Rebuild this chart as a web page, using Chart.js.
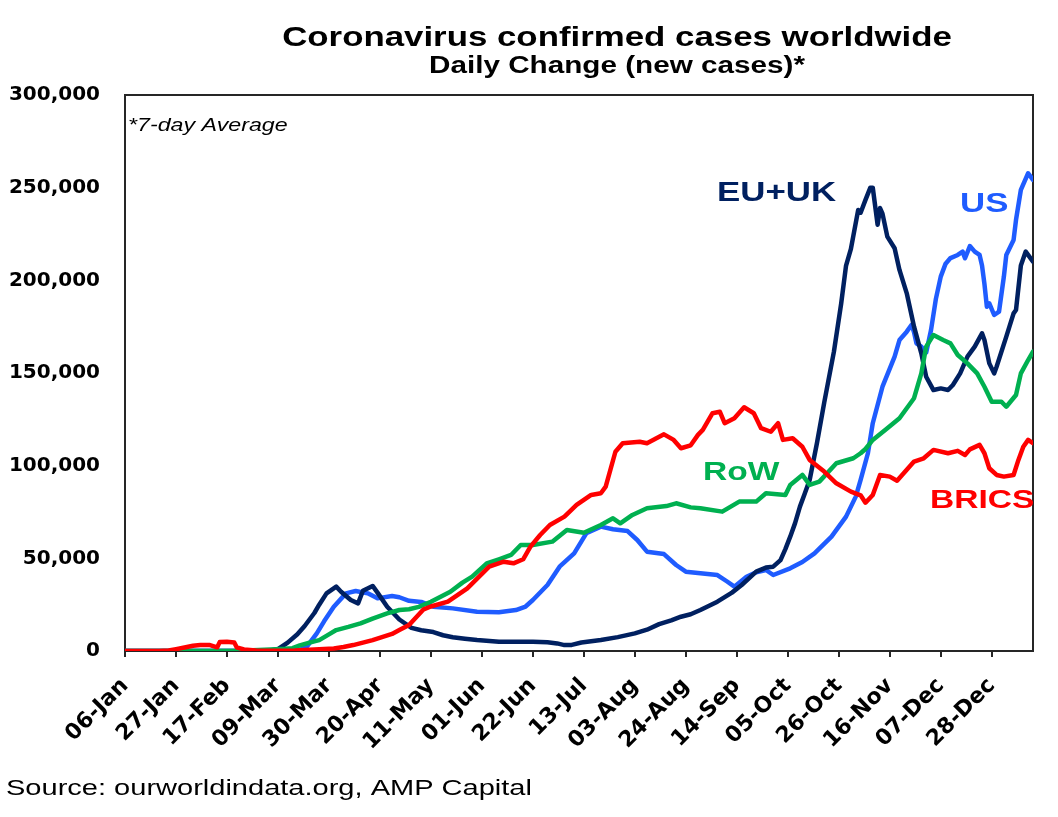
<!DOCTYPE html>
<html>
<head>
<meta charset="utf-8">
<script src="https://cdn.jsdelivr.net/npm/chart.js@4.4.1/dist/chart.umd.min.js"></script>
<style>
  html, body { margin: 0; padding: 0; background: #fff; }
  #chart { display: block; }
</style>
</head>
<body>
<canvas id="chart" width="1058" height="817"></canvas>
<script>
// days counted from 06-Jan-2020, values = new cases (7-day average)
const tickDays = [0, 21, 42, 63, 84, 105, 126, 147, 168, 189, 210, 231, 252, 273, 294, 315, 336, 357];
const tickLabels = ['06-Jan', '27-Jan', '17-Feb', '09-Mar', '30-Mar', '20-Apr', '11-May', '01-Jun', '22-Jun',
    '13-Jul', '03-Aug', '24-Aug', '14-Sep', '05-Oct', '26-Oct', '16-Nov', '07-Dec', '28-Dec'];

const euDays = [0, 55, 60, 63, 67, 71, 74, 78, 80, 83, 87, 89, 93, 96, 98, 102, 104, 108, 113, 118, 122, 127, 131, 135,
    140, 145, 154, 162, 168, 174, 178, 181, 184, 188, 196, 203, 210, 215, 220, 225, 229, 233, 237, 244, 250, 254, 260,
    264, 267, 270, 272, 274, 276, 278, 280, 282, 285, 288, 292, 295, 297, 299, 302, 303, 305, 307, 308, 310, 311, 312,
    314, 317, 319, 322, 325, 328, 330, 333, 336, 339, 341, 344, 347, 350, 353, 354, 356, 358, 359, 363, 366, 367, 369,
    371, 374];
const euVals = [0, 0, 300, 1000, 4500, 9000, 13500, 20500, 25000, 31100, 34700, 32000, 27500, 25700, 32500, 35100,
    31500, 23900, 17000, 12500, 11200, 10200, 8500, 7400, 6600, 5900, 5000, 5000, 5000, 4700, 4100, 3200, 3300, 4600,
    5900, 7500, 9500, 11500, 14500, 16500, 18500, 19800, 22100, 26600, 31500, 35600, 42800, 45000, 45500, 49000, 55000,
    61700, 69000, 77900, 85000, 92300, 112100, 134000, 161500, 187600, 208000, 217000, 238000, 236500, 243400, 250000,
    250000, 230000, 239000, 236000, 223600, 217300, 205600, 193000, 175000, 160600, 148000, 140800, 141700, 140800,
    143500, 149800, 158800, 164200, 171400, 167800, 155200, 149800, 153400, 169600, 182200, 184000, 208000, 215500,
    210100];

const usDays = [0, 70, 72, 75, 79, 82, 86, 91, 95, 100, 104, 110, 113, 117, 122, 127, 135, 145, 154, 161, 165, 168, 174,
    179, 185, 190, 196, 201, 207, 211, 215, 222, 227, 231, 237, 244, 248, 251, 256, 260, 264, 267, 274, 279, 284, 291,
    297, 301, 303, 306, 308, 312, 317, 319, 322, 324, 325, 326, 328, 330, 332, 334, 336, 338, 340, 343, 345, 346, 348,
    350, 352, 353, 354, 355, 356, 358, 360, 362, 363, 366, 367, 369, 372, 374];
const usVals = [0, 0, 500, 2500, 9500, 16000, 23900, 31100, 32400, 31100, 28400, 29700, 29000, 27100, 26500, 23900,
    23000, 21200, 20900, 22100, 24000, 27500, 35600, 45500, 52700, 63500, 67100, 65700, 64700, 59900, 53600, 52300,
    46400, 42800, 41900, 41000, 37500, 34700, 40100, 42500, 43700, 41000, 44600, 48000, 52700, 61700, 72500, 83300,
    92300, 106700, 122900, 142600, 158800, 167800, 172300, 176000, 172000, 166000, 164200, 161000, 173200, 190000,
    202000, 209000, 212000, 213700, 215500, 211900, 218500, 215500, 213700, 208000, 198000, 185800, 187600, 181300,
    183100, 202000, 213700, 221800, 232600, 248800, 257800, 254200];

const rowDays = [0, 45, 50, 60, 66, 69, 72, 76, 80, 84, 87, 92, 97, 102, 108, 113, 117, 121, 126, 134, 139, 143, 149,
    154, 159, 163, 168, 176, 182, 189, 196, 201, 204, 209, 215, 223, 227, 233, 237, 246, 253, 260, 264, 272, 274, 279,
    282, 286, 293, 300, 303, 305, 308, 314, 319, 325, 328, 330, 333, 337, 340, 343, 347, 351, 354, 357, 361, 363, 367,
    369, 372, 374];
const rowVals = [0, 0, 300, 800, 1200, 1500, 3000, 4500, 5900, 9000, 11300, 13000, 14900, 17500, 20300, 22100, 22500,
    23800, 26600, 32000, 36900, 40100, 47300, 49500, 51800, 57200, 57200, 59000, 65300, 63800, 68000, 71600, 68900,
    73400, 77000, 78200, 79700, 77500, 77000, 75200, 80600, 80600, 85100, 84200, 89600, 95000, 89600, 91400, 101300,
    104000, 106700, 109000, 113900, 120200, 125600, 136400, 149800, 164200, 170500, 167800, 166000, 159700, 155200,
    149800, 142600, 134500, 134500, 131800, 138100, 149800, 157000, 161500];

const bricsDays = [0, 14, 18, 21, 25, 28, 31, 35, 38, 39, 42, 45, 46, 49, 54, 63, 70, 78, 86, 90, 94, 102, 110, 113, 117,
    123, 126, 133, 141, 150, 156, 160, 164, 167, 171, 175, 181, 186, 192, 196, 198, 202, 205, 212, 215, 222, 226, 229,
    233, 236, 238, 242, 245, 247, 251, 255, 259, 262, 266, 269, 271, 275, 279, 282, 288, 293, 299, 303, 305, 308, 311,
    315, 318, 325, 329, 333, 339, 343, 346, 348, 352, 354, 356, 359, 362, 366, 368, 370, 372, 374];
const bricsVals = [0, 0, 300, 1000, 2000, 2800, 3200, 3200, 2000, 4800, 5000, 4600, 2000, 800, 300, 200, 300, 800,
    1400, 2200, 3200, 5900, 9200, 11300, 14000, 22500, 24000, 26600, 33800, 45500, 48200, 47300, 49500, 56300, 62600,
    68000, 72500, 78800, 84200, 85100, 88700, 107500, 112100, 112900, 112100, 116900, 113900, 109400, 111000, 116600,
    119300, 128300, 129100, 122900, 125600, 131500, 128300, 120200, 118300, 122900, 113900, 114800, 110200, 103100,
    96800, 90500, 86000, 84000, 80000, 84200, 95000, 94100, 91900, 102200, 104000, 108500, 106700, 108000, 105800,
    108800, 111200, 106700, 98600, 95000, 94100, 95000, 103100, 110200, 113900, 112100];

const NAVY = '#002060';
const BLUE = '#1f5cff';
const GREEN = '#00b050';
const RED = '#ff0000';
const SX = 1.29; // the original picture is stretched sideways

function toPoints(days, vals) {
    return days.map((d, i) => ({ x: d, y: vals[i] }));
}

function lineSet(label, days, vals, color) {
    return {
        label: label,
        data: toPoints(days, vals),
        borderColor: color,
        backgroundColor: color,
        borderWidth: 4.5,
        pointRadius: 0,
        tension: 0,
        borderJoinStyle: 'round',
        borderCapStyle: 'round',
        fill: false
    };
}

function wideText(ctx, text, x, y, font, color, align) {
    ctx.save();
    ctx.font = font;
    ctx.fillStyle = color;
    ctx.textAlign = align;
    ctx.textBaseline = 'alphabetic';
    ctx.translate(x, y);
    ctx.scale(SX, 1);
    ctx.fillText(text, 0, 0);
    ctx.restore();
}

const decorations = {
    id: 'decorations',
    beforeDatasetsDraw(chart) {
        const { ctx, chartArea: a } = chart;
        ctx.save();
        ctx.strokeStyle = '#262626';
        ctx.lineWidth = 2;
        ctx.strokeRect(a.left, a.top, a.right - a.left, a.bottom - a.top);
        ctx.restore();
    },
    afterDraw(chart) {
        const ctx = chart.ctx;
        const sans = '"Liberation Sans", Arial, sans-serif';
        wideText(ctx, 'Coronavirus confirmed cases worldwide', 617, 46, 'bold 27px ' + sans, '#000', 'center');
        wideText(ctx, 'Daily Change (new cases)*', 617, 73, 'bold 23px ' + sans, '#000', 'center');
        wideText(ctx, '*7-day Average', 128, 131, 'italic 18px ' + sans, '#000', 'left');
        wideText(ctx, 'EU+UK', 717, 201, 'bold 27px ' + sans, NAVY, 'left');
        wideText(ctx, 'US', 960, 212, 'bold 27px ' + sans, BLUE, 'left');
        wideText(ctx, 'RoW', 703, 480, 'bold 26px ' + sans, GREEN, 'left');
        wideText(ctx, 'BRICS', 930, 508, 'bold 26px ' + sans, RED, 'left');
        wideText(ctx, 'Source: ourworldindata.org, AMP Capital', 6, 795, '22.5px ' + sans, '#000', 'left');
    }
};

new Chart(document.getElementById('chart'), {
    type: 'line',
    data: {
        datasets: [
            lineSet('BRICS', bricsDays, bricsVals, RED),
            lineSet('RoW', rowDays, rowVals, GREEN),
            lineSet('EU+UK', euDays, euVals, NAVY),
            lineSet('US', usDays, usVals, BLUE)
        ]
    },
    options: {
        responsive: false,
        animation: false,
        devicePixelRatio: 1,
        layout: { padding: { left: 0, top: 95, right: 25, bottom: 0 } },
        plugins: {
            legend: { display: false },
            tooltip: { enabled: false },
            title: { display: false }
        },
        scales: {
            x: {
                type: 'linear',
                min: 0,
                max: 374,
                afterBuildTicks: (scale) => {
                    scale.ticks = tickDays.map(d => ({ value: d }));
                },
                afterFit: (scale) => { scale.height = 166; },
                ticks: {
                    autoSkip: false,
                    maxRotation: 45,
                    minRotation: 45,
                    padding: 16,
                    color: '#000',
                    font: { family: '"DejaVu Sans"', size: 22, weight: 'bold' },
                    callback: (value, index) => tickLabels[index]
                },
                grid: {
                    display: true,
                    drawOnChartArea: false,
                    drawTicks: true,
                    tickLength: 6,
                    color: '#262626',
                    lineWidth: 2
                },
                border: { display: false }
            },
            y: {
                min: 0,
                max: 300000,
                afterFit: (scale) => { scale.width = 125; },
                ticks: {
                    stepSize: 50000,
                    padding: 25,
                    color: '#000',
                    font: { family: '"DejaVu Sans"', size: 20, weight: 'bold' },
                    callback: (value) => value.toLocaleString('en-US')
                },
                grid: { display: false, drawTicks: false },
                border: { display: false }
            }
        }
    },
    plugins: [decorations]
});
</script>
</body>
</html>
